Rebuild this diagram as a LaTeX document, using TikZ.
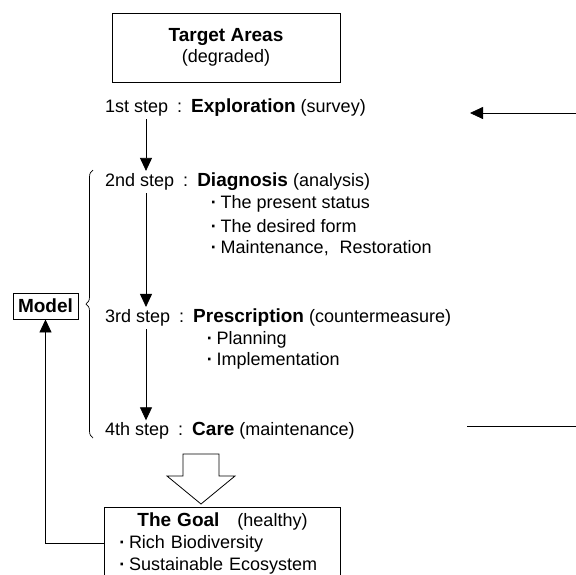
\documentclass[tikz,border=0pt]{standalone}
\usepackage{fontspec}
\setmainfont{Liberation Sans}
\usetikzlibrary{arrows.meta,decorations.pathreplacing}

\newcommand{\sepcol}{\hspace{.5em}:\hspace{.5em}}
\newcommand{\keyw}[1]{{\fontsize{19}{21}\selectfont\bfseries #1}}
\newcommand{\bul}{\makebox[.75em][c]{\textbf{·}}}

\begin{document}
\begin{tikzpicture}[x=1pt,y=-1pt]
%%%%%%%%%%%%%%%%%%%%%%%%%%%%%%%%%%%%%%%%%%%%%%%%%%%%%%%%
% STYLE
\tikzstyle{box}=[rectangle,draw,line width=0.9pt,align=center,font=\fontsize{18}{21}\selectfont]
\tikzstyle{stepline}=[anchor=west,inner sep=2pt,font=\fontsize{18}{21}\selectfont]
\tikzstyle{item}=[anchor=west,inner sep=1pt,font=\fontsize{18}{21}\selectfont]

\tikzset{link/.style={-{Triangle[length=13pt,width=12pt]},line width=0.8pt}}

\clip (0,0) rectangle (576,574);
%%%%%%%%%%%%%%%%%%%%%%%%%%%%%%%%%%%%%%%%%%%%%%%%%%%%%%%%
% NODES
\node[box,minimum width=228pt,minimum height=69pt] (target) at (226,47.5) {\keyw{Target Areas}\\(degraded)};

\node[stepline] (s1) at (103,108) {1st step\sepcol\keyw{Exploration} (survey)};

\node[stepline] (s2) at (103,182) {2nd step\sepcol\keyw{Diagnosis} (analysis)};
\node[item] (s2a) at (206,204) {\bul The present status};
\node[item] (s2b) at (206,226) {\bul The desired form};
\node[item] (s2c) at (206,248) {\bul Maintenance,\hspace{.6em}Restoration};

\node[stepline] (s3) at (103,318) {3rd step\sepcol\keyw{Prescription} (countermeasure)};
\node[item] (s3a) at (202,340) {\bul Planning};
\node[item] (s3b) at (202,361) {\bul Implementation};

\node[stepline] (s4) at (103,431) {4th step\sepcol\keyw{Care} (maintenance)};

\node[box,minimum width=65pt,minimum height=26pt,inner sep=2pt] (model) at (45.5,306) {\keyw{Model}};

\node[box,anchor=north,align=left,text width=214pt,inner xsep=11pt,inner ysep=5pt,
  font=\fontsize{18}{22}\selectfont] (goal) at (222.5,507)
  {{\centering\keyw{The Goal}\hspace{1em}(healthy)\par}
   \bul Rich Biodiversity\\\bul Sustainable Ecosystem};

\coordinate (col) at (146,0);
\coordinate (back1) at (576,113);
\coordinate (back1e) at (470,113);
\coordinate (out4) at (467,426);
\coordinate (out4e) at (576,426);
%%%%%%%%%%%%%%%%%%%%%%%%%%%%%%%%%%%%%%%%%%%%%%%%%%%%%%%%
% LINKS
\draw[link] (s1.south -| col) -- (s2.north -| col);
\draw[link] (s2.south -| col) -- (s3.north -| col);
\draw[link] (s3.south -| col) -- (s4.north -| col);

\draw[link] (back1) -- (back1e);
\draw[line width=0.8pt] (out4) -- (out4e);

\draw[link] (goal.west) -| (model.south);

\draw[decorate,decoration={brace,amplitude=7pt},line width=0.7pt] (93,438) -- (93,170);

\draw[line width=0.8pt] (183,454) -- (219,454) -- (219,476) -- (235,476) -- (201,504)
  -- (167,476) -- (183,476) -- cycle;
\end{tikzpicture}
\end{document}
